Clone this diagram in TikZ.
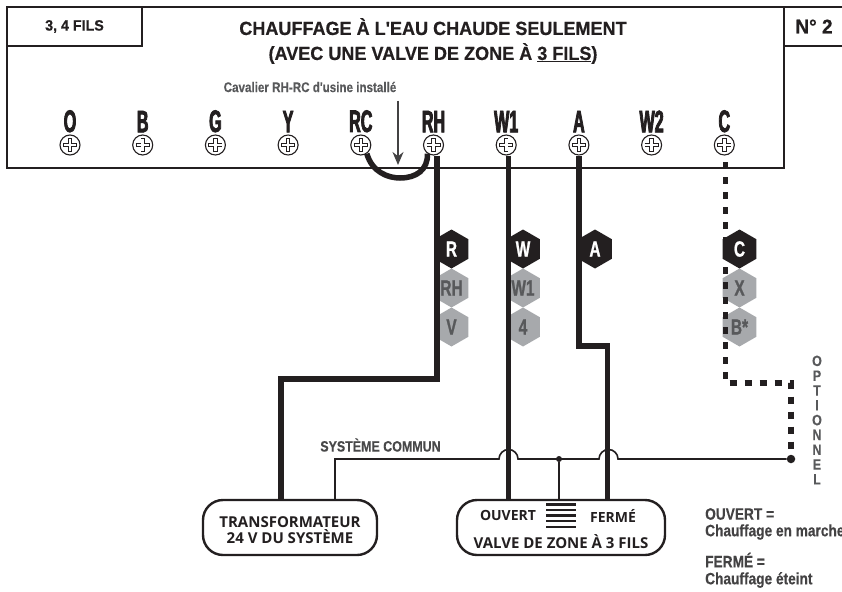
\documentclass[tikz,border=0pt]{standalone}
\usepackage{fontspec}
\usepackage{tikz}
\usetikzlibrary{shapes.geometric,arrows.meta}

\setmainfont{Liberation Sans}
\newfontfamily\condfont[FakeStretch=0.95,FakeBold=0.5]{Liberation Sans}
\newfontfamily\narrowfont[FakeStretch=0.83,FakeBold=0.3]{Liberation Sans}
\newfontfamily\hexfont[FakeStretch=0.7,FakeBold=1]{Liberation Sans}
\newfontfamily\termfont[FakeStretch=0.52,FakeBold=2.5]{Liberation Sans}
\newfontfamily\boxfont{Open Sans}

\definecolor{ink}{HTML}{231F20}
\definecolor{hexgrey}{HTML}{A7A9AC}
\definecolor{textgrey}{HTML}{58595B}

\begin{document}
\begin{tikzpicture}[x=1pt,y=-1pt,node distance=72.7pt,line join=miter]

    \tikzstyle{frame}=[draw=ink,line width=2pt,fill=white,minimum height=39pt,inner sep=0pt,text=ink]
    \tikzstyle{screw}=[circle,draw=ink,line width=1.1pt,fill=white,minimum size=20pt,inner sep=0pt,
        path picture={
            \draw[ink,line width=4.4pt] ([xshift=-7pt]path picture bounding box.center) -- ([xshift=7pt]path picture bounding box.center);
            \draw[ink,line width=4.4pt] ([yshift=-7pt]path picture bounding box.center) -- ([yshift=7pt]path picture bounding box.center);
            \draw[white,line width=2.6pt] ([xshift=-6.2pt]path picture bounding box.center) -- ([xshift=6.2pt]path picture bounding box.center);
            \draw[white,line width=2.6pt] ([yshift=-6.2pt]path picture bounding box.center) -- ([yshift=6.2pt]path picture bounding box.center);
        }]
    \tikzstyle{terminal}=[font=\termfont\bfseries\fontsize{31}{31}\selectfont,text=ink,inner sep=0pt]
    \tikzstyle{hexblack}=[regular polygon,regular polygon sides=6,shape border rotate=30,minimum size=39pt,inner sep=0pt,
        fill=ink,text=white,font=\hexfont\bfseries\fontsize{22}{22}\selectfont]
    \tikzstyle{hexgrey}=[hexblack,fill=hexgrey,text=textgrey]
    \tikzstyle{wire}=[draw=ink,line width=5.2pt]
    \tikzstyle{dotted wire}=[draw=ink,line width=5.5pt,dash pattern=on 7pt off 8pt]
    \tikzstyle{thin wire}=[draw=ink,line width=1.6pt]
    \tikzstyle{device}=[draw=ink,line width=2.4pt,rounded corners=20pt,minimum height=55pt,inner sep=0pt,fill=white]
    \tikzstyle{devicetext}=[font=\boxfont\bfseries\fontsize{15}{16}\selectfont,text=ink,align=center,inner sep=0pt]
    \tikzstyle{dot}=[circle,fill=ink,inner sep=0pt]
    \tikzstyle{note}=[font=\narrowfont\bfseries\fontsize{16.5}{18}\selectfont,text=textgrey!60!ink,inner sep=0pt,anchor=west]

    \useasboundingbox (0,0) rectangle (842,591);

    % thermostat base
    \node[draw=ink,line width=2pt,minimum width=777pt,minimum height=161pt,inner sep=0pt] (base) at (395.5,87.5) {};
    \node[frame,minimum width=135pt,font=\condfont\bfseries\fontsize{15}{15}\selectfont] (wires) at (74.5,26.5) {3, 4 FILS};
    \node[frame,minimum width=60pt,font=\condfont\bfseries\fontsize{20}{20}\selectfont] (number) at (814,26.5) {N° 2};

    \node[text=ink,inner sep=0pt,font=\condfont\bfseries\fontsize{19}{25}\selectfont,align=center] (title) at (433,41)
        {CHAUFFAGE À L'EAU CHAUDE SEULEMENT\\(AVEC UNE VALVE DE ZONE À $\underline{\hbox{3 FILS}}$)};
    \node[text=textgrey,inner sep=0pt,font=\narrowfont\bfseries\fontsize{14}{14}\selectfont] (jumpertext) at (310,87) {Cavalier RH-RC d'usine installé};

    % terminals
    \node[screw,label={[terminal,label distance=2pt]above:O}]   (O)  at (70,145) {};
    \node[screw,label={[terminal,label distance=2pt]above:B}]   (B)  [right of = O]  {};
    \node[screw,label={[terminal,label distance=2pt]above:G}]   (G)  [right of = B]  {};
    \node[screw,label={[terminal,label distance=2pt]above:Y}]   (Y)  [right of = G]  {};
    \node[screw,label={[terminal,label distance=2pt]above:RC}]  (RC) [right of = Y]  {};
    \node[screw,label={[terminal,label distance=2pt]above:RH}]  (RH) [right of = RC] {};
    \node[screw,label={[terminal,label distance=2pt]above:W1}]  (W1) [right of = RH] {};
    \node[screw,label={[terminal,label distance=2pt]above:A}]   (A)  [right of = W1] {};
    \node[screw,label={[terminal,label distance=2pt]above:W2}]  (W2) [right of = A]  {};
    \node[screw,label={[terminal,label distance=2pt]above:C}]   (C)  [right of = W2] {};

    % system devices
    \node[device,minimum width=174pt] (transfo) at (290,527.5) {};
    \node[device,minimum width=208pt] (valve) at (561,527.5) {};
    \node[devicetext] (transfotext) at (290,530) {TRANSFORMATEUR\\24 V DU SYSTÈME};
    \node[devicetext,font=\boxfont\bfseries\fontsize{14}{16}\selectfont] (open) at (508,515.5) {OUVERT};
    \node[devicetext,font=\boxfont\bfseries\fontsize{14}{16}\selectfont] (shut) at (613,515.5) {FERMÉ};
    \node[devicetext] (valvetext) at (561,542) {VALVE DE ZONE À 3 FILS};
    \foreach \y in {504.5,510,515.5,521,526.7}
        \draw[ink,line width=2.2pt] (546,\y) -- (576,\y);

    % grey wire codes
    \node[hexgrey] (hexRH) at (451.5,288) {RH};
    \node[hexgrey] (hexV)  at (451.5,327) {V};
    \node[hexgrey] (hexW1) at (523,288) {W1};
    \node[hexgrey] (hex4)  at (523,327) {4};
    \node[hexgrey] (hexX)  at (739.5,288) {X};
    \node[hexgrey] (hexB)  at (739.5,327) {B*};

    % wires
    \coordinate (Rturn) at (437,379);
    \coordinate (Rdown) at (281,379);
    \coordinate (Aturn) at (579,346);
    \coordinate (Adown) at (607.5,346);
    \coordinate (Cturn) at (725.5,383);
    \coordinate (Cdown) at (791,383);
    \coordinate (Wdown) at (508.7,168);
    \coordinate (arrowtop) at (398,101);
    \coordinate (arrowtip) at (398,165);

    \node[dot,minimum size=6pt] (junction) at (559,459) {};
    \node[dot,minimum size=8.5pt] (optdot) at (791,459) {};
    \coordinate (Hump1) at (499,459);
    \coordinate (Hump2) at (599,459);
    \coordinate (Common) at (335,500);

    \draw[wire] (Rturn |- RH.south) -- (Rturn) -- (Rdown) -- (Rdown |- transfo.north);
    \draw[wire] (Wdown |- W1.south) -- (Wdown |- valve.north);
    \draw[wire] (Aturn |- A.south) -- (Aturn) -- (Adown) -- (Adown |- valve.north);
    \draw[dotted wire] (Cturn |- C.south) ++(0,6.5) -- (Cturn) -- (Cdown) -- (optdot);
    \draw[wire,line width=5.5pt] (RC.-55) .. controls (372,172) and (388,178) .. (400,178) .. controls (416,178) and (428,170) .. (RH.-125);
    \draw[-{Stealth[length=13pt,width=11pt]},draw=textgrey!60!ink,fill=textgrey!60!ink,line width=1.5pt] (arrowtop) -- (arrowtip);

    % common line
    \draw[thin wire] (Common) |- (Hump1) arc[start angle=180,end angle=360,radius=9.5] -- (Hump2) arc[start angle=180,end angle=360,radius=9.5] -- (optdot);
    \draw[thin wire] (junction) -- (junction |- valve.north);
    \node[text=textgrey!70!ink,inner sep=0pt,font=\narrowfont\bfseries\fontsize{15}{15}\selectfont] (commontext) at (380.5,445) {SYSTÈME COMMUN};

    % black wire codes
    \node[hexblack] (hexR) at (451.5,249) {R};
    \node[hexblack] (hexW) at (523,249) {W};
    \node[hexblack] (hexA) at (595,249) {A};
    \node[hexblack] (hexC) at (739.5,249) {C};

    % side notes
    \node[inner sep=0pt,text=textgrey,font=\narrowfont\bfseries\fontsize{15}{14.8}\selectfont,align=center] (optional) at (817,420)
        {O\\P\\T\\I\\O\\N\\N\\E\\L};
    \node[note] (noteopen)  at (705,514) {OUVERT =};
    \node[note] (noteon)    at (705,532) {Chauffage en marche};
    \node[note] (noteshut)  at (705,560) {FERMÉ =};
    \node[note] (noteoff)   at (705,580) {Chauffage éteint};
\end{tikzpicture}
\end{document}
